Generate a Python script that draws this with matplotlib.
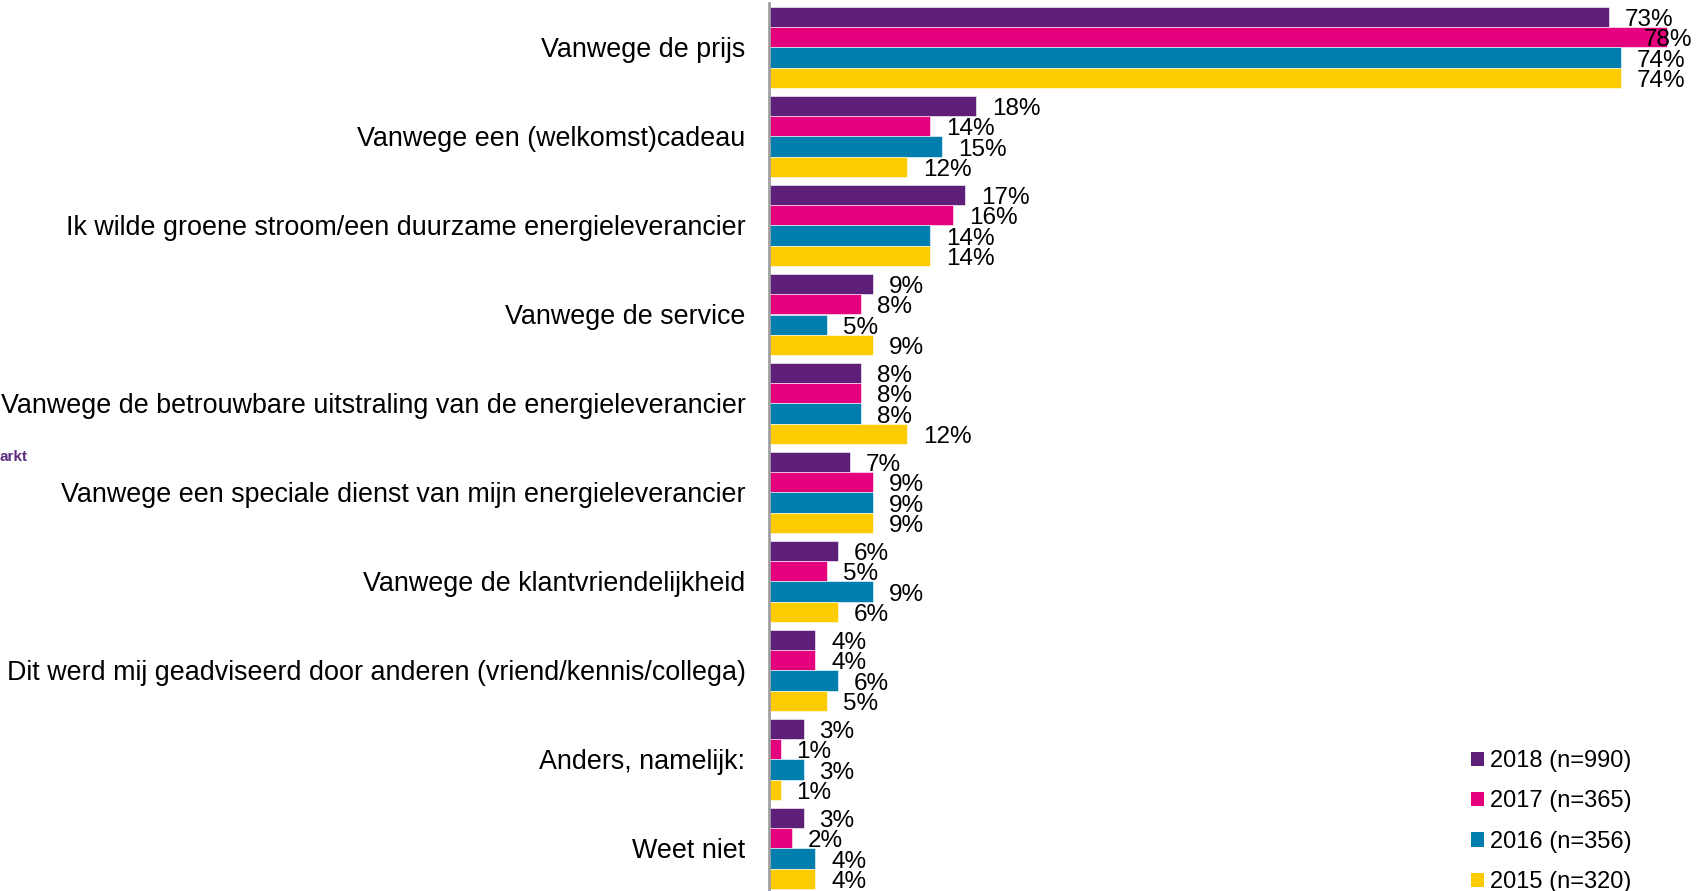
import matplotlib
matplotlib.use("Agg")
import matplotlib.pyplot as plt
from matplotlib.patches import Patch
import numpy as np

plt.rcParams['font.family'] = ['Liberation Sans', 'DejaVu Sans']

categories = [
    "Vanwege de prijs",
    "Vanwege een (welkomst)cadeau",
    "Ik wilde groene stroom/een duurzame energieleverancier",
    "Vanwege de service",
    "Vanwege de betrouwbare uitstraling van de energieleverancier",
    "Vanwege een speciale dienst van mijn energieleverancier",
    "Vanwege de klantvriendelijkheid",
    "Dit werd mij geadviseerd door anderen (vriend/kennis/collega)",
    "Anders, namelijk:",
    "Weet niet",
]
series_names = ["2018 (n=990)", "2017 (n=365)", "2016 (n=356)", "2015 (n=320)"]
v2018 = [73, 18, 17, 9, 8, 7, 6, 4, 3, 3]
v2017 = [78, 14, 16, 8, 8, 9, 5, 4, 1, 2]
v2016 = [74, 15, 14, 5, 8, 9, 9, 6, 3, 4]
v2015 = [74, 12, 14, 9, 12, 9, 6, 5, 1, 4]
colors = ["#5E1F78", "#E5007E", "#007FAE", "#FCCB00"]

series = [v2018, v2017, v2016, v2015]

W, H = 1704, 891
fig = plt.figure(figsize=(W / 100, H / 100), dpi=100)
ax_left = 769 / W
ax_top = 3 / H
ax_bot = -2 / H
ax = fig.add_axes([ax_left, ax_bot, 1 - ax_left, 1 - ax_top - ax_bot])

n = len(categories)
bh = 0.225
y = np.arange(n)
xmax = (W - 769) / 11.51
for i, (vals, c) in enumerate(zip(series, colors)):
    pos = y - 1.5 * bh + i * bh
    ax.barh(pos, vals, height=bh, color=c, edgecolor='white', linewidth=0.4)
    for p, v in zip(pos, vals):
        txt = f"{v}%"
        if v + 1.4 + 4.8 > 80.2:
            ax.annotate(txt, (80.2, p), xytext=(0, -3), textcoords='offset pixels',
                        ha='right', va='center', fontsize=17.5, color='black')
        else:
            ax.annotate(txt, (v, p), xytext=(16, -3), textcoords='offset pixels',
                        ha='left', va='center', fontsize=17.5, color='black')

ax.set_ylim(n - 0.5, -0.5)
ax.set_xlim(0, xmax)
ax.set_yticks(y)
ax.set_yticklabels(categories, fontsize=19.4)
ax.tick_params(axis='y', length=0, pad=17)
ax.set_xticks([])
for s in ['top', 'right', 'bottom']:
    ax.spines[s].set_visible(False)
ax.spines['left'].set_color('#A0A0A0')
ax.spines['left'].set_linewidth(2)

handles = [Patch(facecolor=c, edgecolor='none') for c in colors]
fig.legend(handles, series_names, loc='upper left',
           bbox_to_anchor=(1471 / W, 1 - 750 / H), frameon=False,
           fontsize=17, handlelength=0.55, handleheight=0.55,
           handletextpad=0.25, labelspacing=0.78, borderpad=0, borderaxespad=0)

fig.text(0, 1 - 457 / H, "arkt", ha='left', va='center', fontsize=11,
         fontweight='bold', color='#5E2D82')

fig.savefig("out.png", dpi=100)
